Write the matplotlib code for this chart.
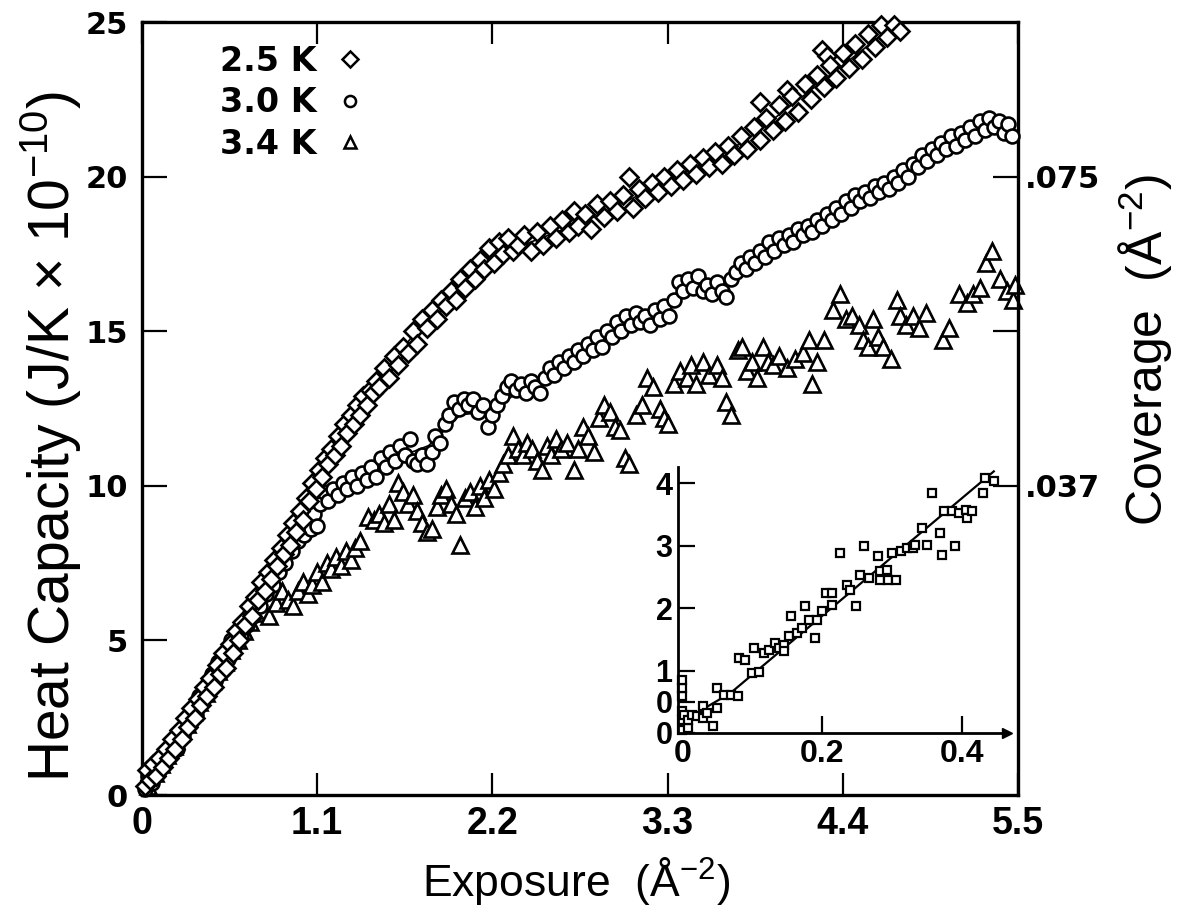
import matplotlib
matplotlib.use('Agg')
import matplotlib.pyplot as plt

plt.rcParams['mathtext.fontset'] = 'custom'
plt.rcParams['mathtext.rm'] = 'Liberation Sans'
plt.rcParams['mathtext.it'] = 'Liberation Sans:italic'
plt.rcParams['mathtext.bf'] = 'Liberation Sans:bold'

# ---------------- data ----------------
k25_x = [0.02,0.03,0.05,0.07,0.09,0.11,0.13,0.15,0.17,0.19,0.21,0.23,0.25,0.27,0.29,0.31,0.33,0.35,0.37,0.39,
         0.41,0.43,0.45,0.47,0.49,0.51,0.53,0.55,0.57,0.59,0.61,0.63,0.65,0.67,0.69,0.71,0.73,0.75,0.77,0.79,
         0.81,0.83,0.85,0.87,0.89,0.91,0.93,0.95,0.97,0.99,1.01,1.03,1.05,1.07,1.09,1.11,1.13,1.15,1.17,1.19,
         1.21,1.23,1.25,1.27,1.29,1.31,1.33,1.35,1.37,1.39,1.41,1.43,1.45,1.47,1.49,1.52,1.55,1.58,1.61,1.64,
         1.67,1.70,1.73,1.76,1.79,1.82,1.85,1.88,1.91,1.94,1.97,2.00,2.03,2.06,2.09,2.12,2.15,2.18,2.21,2.24,
         2.27,2.30,2.33,2.36,2.40,2.44,2.48,2.52,2.56,2.60,2.64,2.68,2.71,2.74,2.78,2.82,2.86,2.90,2.94,2.98,
         3.02,3.06,3.08,3.12,3.16,3.20,3.24,3.28,3.32,3.36,3.40,3.44,3.48,3.52,3.56,3.60,3.64,3.68,3.72,3.76,
         3.80,3.84,3.88,3.88,3.92,3.96,4.00,4.04,4.05,4.08,4.12,4.16,4.20,4.24,4.27,4.30,4.28,4.32,4.36,4.40,
         4.44,4.48,4.52,4.56,4.60,4.64,4.68,4.72,4.76]
k25_y = [0.3,0.8,0.5,1.0,0.6,1.2,0.9,1.5,1.2,1.8,1.5,2.1,1.8,2.5,2.2,2.8,2.5,3.1,2.9,3.5,
         3.2,3.8,3.5,4.2,3.9,4.6,4.1,4.9,4.6,5.3,5.0,5.6,5.5,6.1,5.8,6.4,6.3,6.9,6.6,7.2,
         7.0,7.6,7.4,8.0,7.8,8.4,8.1,8.8,8.5,9.2,8.9,9.6,9.5,10.1,9.9,10.5,10.3,10.9,10.7,11.2,
         11.0,11.6,11.3,12.0,11.7,12.3,12.0,12.6,12.3,12.9,12.6,13.1,13.0,13.4,13.2,13.8,13.5,14.2,13.9,14.5,
         14.3,15.0,14.6,15.4,15.1,15.7,15.4,16.0,15.8,16.3,16.0,16.7,16.4,17.0,16.7,17.3,17.0,17.7,17.2,17.9,
         17.5,18.0,17.6,17.8,18.1,17.6,18.2,17.8,18.4,18.0,18.6,18.2,18.9,18.4,18.8,18.3,19.1,18.7,19.2,18.9,
         19.4,20.0,19.0,19.6,19.3,19.8,19.5,20.0,19.7,20.2,19.9,20.4,20.1,20.6,20.3,20.8,20.4,21.0,20.7,21.3,
         20.9,21.6,22.4,21.2,21.9,21.5,22.3,21.8,22.8,22.6,22.1,23.0,22.5,23.3,24.1,23.9,22.9,23.6,23.2,24.0,
         23.5,24.3,23.8,24.6,24.2,24.9,24.5,24.9,24.7]

k30_x = [0.02,0.04,0.06,0.08,0.10,0.12,0.14,0.16,0.18,0.20,0.22,0.24,0.26,0.28,0.30,0.32,0.34,0.36,0.38,0.40,
         0.42,0.44,0.46,0.48,0.50,0.52,0.54,0.56,0.58,0.60,0.62,0.64,0.66,0.68,0.70,0.72,0.74,0.76,0.78,0.80,
         0.82,0.84,0.86,0.88,0.90,0.92,0.94,0.96,0.98,1.00,1.02,1.04,1.06,1.08,1.10,1.12,1.14,1.17,1.20,1.23,
         1.26,1.29,1.32,1.35,1.38,1.41,1.44,1.47,1.50,1.53,1.56,1.59,1.62,1.65,1.68,1.70,1.73,1.76,1.79,1.82,
         1.84,1.87,1.90,1.93,1.96,1.99,2.02,2.05,2.08,2.11,2.14,2.17,2.20,2.23,2.26,2.29,2.32,2.35,2.38,2.41,
         2.44,2.47,2.50,2.53,2.56,2.59,2.62,2.65,2.68,2.71,2.74,2.77,2.80,2.83,2.86,2.89,2.92,2.95,2.98,3.01,
         3.04,3.07,3.10,3.13,3.16,3.19,3.22,3.25,3.28,3.31,3.34,3.37,3.40,3.43,3.46,3.49,3.52,3.55,3.58,3.61,
         3.64,3.67,3.70,3.73,3.76,3.79,3.82,3.85,3.88,3.91,3.94,3.97,4.00,4.03,4.06,4.09,4.12,4.15,4.18,4.21,
         4.24,4.27,4.30,4.33,4.36,4.39,4.42,4.45,4.48,4.51,4.54,4.57,4.60,4.63,4.66,4.69,4.72,4.75,4.78,4.81,
         4.84,4.87,4.90,4.93,4.96,4.99,5.02,5.05,5.08,5.11,5.14,5.17,5.20,5.23,5.26,5.29,5.32,5.35,5.38,5.41,
         5.44,5.46]
k30_y = [0.2,0.6,0.4,0.9,0.7,1.1,1.0,1.4,1.3,1.7,1.5,2.0,1.9,2.4,2.3,2.8,2.6,3.2,3.0,3.5,
         3.4,3.9,3.7,4.3,4.1,4.6,4.4,5.0,4.8,5.3,5.1,5.6,5.5,5.9,5.8,6.2,6.1,6.6,6.5,7.0,
         6.8,7.3,7.2,7.7,7.5,8.0,7.9,8.4,8.2,8.6,8.4,8.9,8.6,9.1,8.7,9.4,9.8,9.5,9.9,9.7,
         10.1,9.9,10.3,10.0,10.4,10.2,10.6,10.3,10.9,10.6,11.1,10.8,11.3,11.0,11.5,10.8,10.7,11.0,10.7,11.1,
         11.6,11.4,12.0,12.3,12.7,12.5,12.8,12.6,12.8,12.4,12.6,11.9,12.3,12.6,12.9,13.2,13.4,13.1,13.3,13.0,
         13.4,13.2,13.0,13.5,13.8,13.6,14.0,13.8,14.2,14.0,14.4,14.2,14.6,14.4,14.8,14.5,15.0,14.8,15.3,15.0,
         15.5,15.2,15.6,15.3,15.5,15.2,15.7,15.4,15.8,15.5,16.0,16.6,16.3,16.7,16.4,16.8,16.3,16.5,16.2,16.6,
         16.3,16.1,16.7,16.9,17.2,17.0,17.4,17.2,17.6,17.4,17.9,17.6,18.0,17.8,18.1,17.9,18.3,18.1,18.4,18.2,
         18.6,18.4,18.8,18.6,19.0,18.8,19.2,19.0,19.4,19.2,19.5,19.3,19.7,19.5,19.8,19.6,20.0,19.8,20.2,20.0,
         20.4,20.3,20.7,20.5,20.9,20.7,21.1,20.9,21.3,21.0,21.4,21.2,21.6,21.3,21.8,21.5,21.9,21.6,21.8,21.4,
         21.7,21.3]

k34_x = [0.04,0.08,0.12,0.16,0.20,0.24,0.28,0.32,0.36,0.40,0.44,0.48,0.52,0.56,0.60,0.64,0.68,0.72,0.76,0.80,
         0.84,0.88,0.92,0.95,0.98,1.01,1.04,1.07,1.10,1.13,1.16,1.19,1.22,1.25,1.28,1.31,1.34,1.37,1.42,1.46,
         1.49,1.52,1.55,1.58,1.61,1.64,1.67,1.70,1.73,1.76,1.79,1.82,1.85,1.88,1.91,1.94,1.97,2.00,2.03,2.06,
         2.09,2.12,2.15,2.18,2.21,2.24,2.27,2.30,2.33,2.36,2.39,2.42,2.45,2.48,2.51,2.54,2.57,2.60,2.63,2.67,
         2.71,2.74,2.77,2.80,2.84,2.87,2.90,2.94,2.97,3.00,3.03,3.06,3.10,3.14,3.17,3.21,3.25,3.28,3.30,3.34,
         3.38,3.42,3.45,3.48,3.52,3.56,3.61,3.64,3.67,3.70,3.74,3.77,3.80,3.83,3.86,3.90,3.93,3.96,4.00,4.05,
         4.10,4.15,4.19,4.21,4.24,4.28,4.34,4.38,4.42,4.46,4.50,4.53,4.56,4.59,4.62,4.65,4.70,4.74,4.76,4.80,
         4.84,4.88,4.92,5.03,5.07,5.13,5.18,5.22,5.26,5.30,5.34,5.39,5.43,5.47,5.48]
k34_y = [0.3,0.7,1.0,1.3,1.6,2.0,2.3,2.7,3.0,3.3,3.7,4.0,4.3,4.7,5.0,5.3,5.6,5.9,6.0,5.8,
         6.2,6.6,6.3,6.1,6.6,6.9,6.5,6.8,7.2,6.9,7.5,7.3,7.7,7.4,7.9,7.6,8.0,8.2,9.0,8.9,
         9.1,8.8,9.4,8.9,10.1,9.8,9.4,9.7,9.2,8.8,8.5,8.6,9.3,9.7,9.9,9.4,9.1,8.1,9.6,9.8,
         9.3,10.0,9.6,10.2,9.9,10.4,10.7,11.0,11.6,11.2,11.0,11.4,11.2,10.8,10.5,11.3,11.0,11.5,11.2,11.4,
         10.5,11.2,11.9,11.6,11.1,12.2,12.6,12.4,11.9,11.8,10.9,10.7,12.3,12.6,13.5,13.2,12.5,12.2,12.0,13.3,
         13.7,13.5,13.9,13.3,14.0,13.6,13.9,13.5,12.7,12.3,14.4,14.5,13.7,14.0,13.5,14.5,14.0,13.9,14.2,13.8,
         14.1,14.3,14.7,13.3,14.0,14.7,15.7,16.2,15.4,15.5,15.2,14.7,14.5,15.4,14.8,14.5,14.1,16.0,15.5,15.2,
         15.5,15.1,15.6,14.7,15.1,16.2,15.9,16.2,16.4,17.2,17.6,16.7,16.3,16.0,16.5]

# smooth curves drawn through the 2.5 K and 3.0 K data
fit25_x = [0.0,0.2,0.4,0.6,0.8,1.0,1.2,1.4,1.6,1.8,2.0,2.2,2.4,2.6,2.8,3.0,3.2,3.4,3.6,3.8,4.0,4.2,4.4,4.6,4.8]
fit25_y = [0.2,1.7,3.4,5.2,7.2,9.2,11.2,12.8,14.2,15.5,16.5,17.3,17.8,18.2,18.6,19.1,19.6,20.1,20.6,21.2,22.0,22.8,23.6,24.4,25.0]
fit30_x = [0.0,0.2,0.4,0.6,0.8,1.0,1.1,1.2,1.4,1.6,1.8,2.0,2.2,2.4,2.6,2.8,3.0,3.2,3.4,3.6,3.8,4.0,4.2,4.4,4.6,4.8,5.0,5.2,5.4]
fit30_y = [0.2,1.6,3.4,5.2,6.9,8.5,9.2,9.7,10.3,10.9,11.3,12.3,12.4,13.2,13.7,14.4,15.0,15.4,16.2,16.4,17.2,17.9,18.3,19.0,19.5,20.1,20.8,21.4,21.7]

inset_x = [0.0,0.0,0.0,0.0,0.0,0.0,0.002,0.008,0.008,0.014,0.021,0.029,0.029,0.036,0.044,0.05,0.05,0.06,0.069,
           0.079,0.081,0.09,0.10,0.102,0.109,0.117,0.124,0.133,0.138,0.145,0.145,0.152,0.155,0.164,0.171,0.176,
           0.181,0.19,0.193,0.20,0.205,0.214,0.214,0.225,0.236,0.24,0.248,0.254,0.259,0.267,0.279,0.283,0.293,
           0.283,0.294,0.30,0.305,0.312,0.321,0.329,0.333,0.343,0.349,0.357,0.368,0.371,0.374,0.386,0.389,
           0.395,0.405,0.407,0.414,0.429,0.433,0.445]
inset_y = [0.05,0.2,0.35,0.59,0.72,0.85,0.29,0.08,0.21,0.29,0.27,0.43,0.24,0.32,0.11,0.40,0.72,0.61,0.61,
           0.59,1.20,1.17,0.96,1.36,0.97,1.28,1.33,1.44,1.36,1.41,1.31,1.55,1.87,1.60,1.68,2.03,
           1.81,1.52,1.81,1.95,2.24,2.24,2.05,2.88,2.37,2.29,2.03,2.53,2.99,2.48,2.83,2.59,2.61,
           2.45,2.45,2.88,2.45,2.91,2.96,2.96,3.01,3.28,3.01,3.85,3.20,2.85,3.55,3.55,2.99,
           3.52,3.57,3.44,3.55,3.84,4.08,4.03]
inset_fit_x = [0.002,0.069,0.445]
inset_fit_y = [0.2,0.64,4.19]

series_labels = ['2.5 K', '3.0 K', '3.4 K']
x_ticks = [0, 1.1, 2.2, 3.3, 4.4, 5.5]
x_ticklabels = ['0', '1.1', '2.2', '3.3', '4.4', '5.5']
y_ticks = [0, 5, 10, 15, 20, 25]
cov_ticks = [10, 15, 20]
cov_ticklabels = ['.037', '', '.075']
inset_xticks = [0, 0.2, 0.4]
inset_xticklabels = ['0', '0.2', '0.4']
inset_yticks = [0, 0.5, 1, 2, 3, 4]
inset_yticklabels = ['0', '0', '1', '2', '3', '4']

# ---------------- figure ----------------
fig = plt.figure(figsize=(11.79, 9.13), dpi=100)
ax = fig.add_axes([0.1204, 0.1292, 0.743, 0.8467])

mk = dict(linestyle='none', mfc='white', mec='black', mew=1.9, clip_on=False)
ax.plot(fit25_x, fit25_y, color='black', lw=1.2, zorder=1)
ax.plot(fit30_x, fit30_y, color='black', lw=1.2, zorder=1)
h3, = ax.plot(k34_x, k34_y, marker='^', ms=11, zorder=2, **mk)
h2, = ax.plot(k30_x, k30_y, marker='o', ms=10, zorder=3, **mk)
h1, = ax.plot(k25_x, k25_y, marker='D', ms=9, zorder=4, **mk)

ax.set_xlim(0, 5.5)
ax.set_ylim(0, 25)
for s in ax.spines.values():
    s.set_linewidth(2.4)

ax.set_xticks(x_ticks)
ax.set_xticklabels(x_ticklabels, family='Liberation Sans', fontsize=27, fontweight='bold')
ax.set_yticks(y_ticks)
ax.set_yticklabels([str(v) for v in y_ticks], family='DejaVu Sans', fontsize=22, fontweight='bold')
ax.tick_params(axis='x', direction='in', length=16, width=1.6, top=True, pad=8)
ax.tick_params(axis='y', direction='in', length=18, width=1.6, right=False, pad=10)

axr = ax.twinx()
axr.set_ylim(0, 25)
axr.set_yticks(cov_ticks)
axr.set_yticklabels(cov_ticklabels, family='DejaVu Sans', fontsize=22, fontweight='bold')
axr.tick_params(axis='y', direction='in', length=18, width=1.6, pad=5)
for s in axr.spines.values():
    s.set_visible(False)

ax.set_xlabel('Exposure  (Å$^{-2}$)', family='Liberation Sans', fontsize=32)
ax.xaxis.set_label_coords(0.496, -0.077)
ax.set_ylabel('Heat Capacity (J/K × 10$^{-10}$)', family='Liberation Sans', fontsize=41)
ax.yaxis.set_label_coords(-0.066, 0.463)
axr.set_ylabel('Coverage  (Å$^{-2}$)', family='Liberation Sans', fontsize=36)
axr.yaxis.set_label_coords(1.113, 0.576)

leg = ax.legend([h1, h2, h3], series_labels, loc='upper left', bbox_to_anchor=(0.07, 0.992),
                frameon=False, markerfirst=False, handlelength=0.8, handletextpad=0.6,
                labelspacing=0.25, borderpad=0,
                prop={'family': 'DejaVu Sans', 'weight': 'bold', 'size': 24})
for h in leg.legend_handles:
    h.set_markersize(8)
    h.set_markeredgewidth(1.8)

# ---------------- inset ----------------
axi = fig.add_axes([0.5751, 0.1972, 0.2791, 0.2913])
axi.patch.set_alpha(0)
axi.plot(inset_fit_x, inset_fit_y, color='black', lw=1.6, zorder=1)
axi.plot(inset_x, inset_y, linestyle='none', marker='s', ms=6, mfc='white', mec='black', mew=1.6,
         clip_on=False, zorder=2)
axi.set_xlim(-0.006, 0.464)
axi.set_ylim(0, 4.26)
axi.spines['top'].set_visible(False)
axi.spines['right'].set_visible(False)
axi.spines['left'].set_linewidth(2.0)
axi.spines['bottom'].set_linewidth(2.0)
axi.plot(1, 0, marker='>', ms=7, color='black', transform=axi.transAxes, clip_on=False)
axi.set_xticks(inset_xticks)
axi.set_xticklabels(inset_xticklabels, family='Liberation Sans', fontsize=23, fontweight='bold')
axi.set_yticks(inset_yticks)
axi.set_yticklabels(inset_yticklabels, family='Liberation Sans', fontsize=22, fontweight='bold')
axi.tick_params(axis='x', direction='in', length=12, width=1.6, pad=4)
axi.tick_params(axis='y', direction='in', length=12, width=1.6, pad=4)

fig.savefig('out.png', dpi=100)
